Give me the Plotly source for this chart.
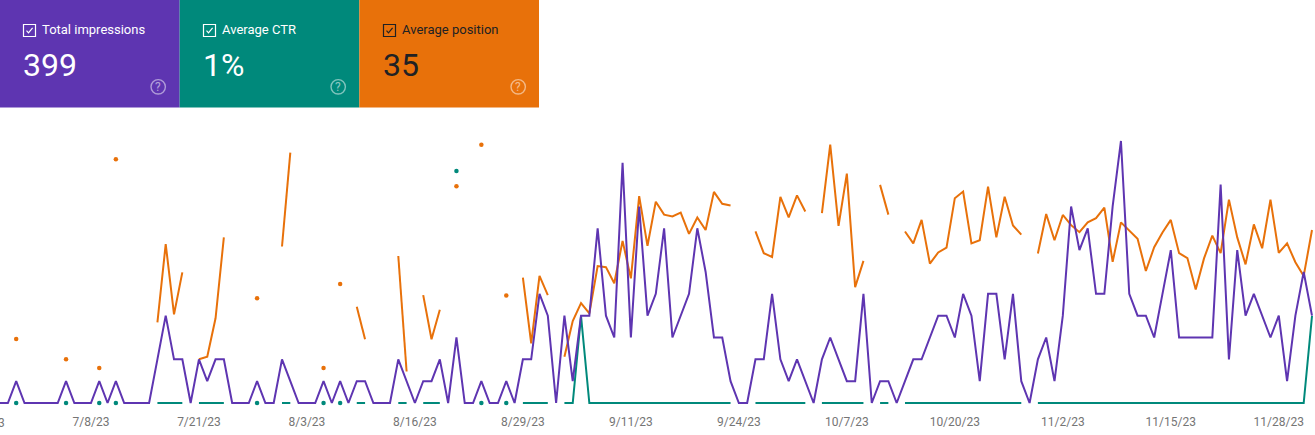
import pandas as pd
import plotly.graph_objects as go

N = None

start_date = "2023-06-27"

impressions = [
    0, 0, 1, 0, 0, 0, 0, 0, 1, 0,
    0, 0, 1, 0, 1, 0, 0, 0, 0, 2,
    4, 2, 2, 0, 2, 1, 2, 2, 0, 0,
    0, 1, 0, 0, 2, 1, 0, 0, 0, 1,
    0, 1, 0, 1, 1, 0, 0, 0, 2, 1,
    0, 1, 1, 2, 0, 3, 0, 0, 1, 0,
    0, 1, 0, 2, 2, 5, 4, 0, 4, 1,
    4, 4, 8, 4, 3, 11, 3, 9, 4, 5,
    8, 3, 4, 5, 8, 6, 3, 3, 1, 0,
    0, 2, 2, 5, 2, 1, 2, 1, 0, 2,
    3, 2, 1, 1, 5, 0, 1, 1, 0, 1,
    2, 2, 3, 4, 4, 3, 5, 4, 1, 5,
    5, 2, 5, 1, 0, 2, 3, 1, 4, 9,
    7, 8, 5, 5, 9, 12, 5, 4, 4, 3,
    5, 7, 3, 3, 3, 3, 3, 10, 2, 7,
    4, 5, 4, 3, 4, 1, 4, 6, 4,
]

ctr = [
    N, N, 0, N, N, N, N, N, 0, N,
    N, N, 0, N, 0, N, N, N, N, 0,
    0, 0, 0, N, 0, 0, 0, 0, N, N,
    N, 0, N, N, 0, 0, N, N, N, 0,
    N, 0, N, 0, 0, N, N, N, 0, 0,
    N, 0, 0, 0, N, 66.7, N, N, 0, N,
    N, 0, N, 0, 0, 0, 0, N, 0, 0,
    25, 0, 0, 0, 0, 0, 0, 0, 0, 0,
    0, 0, 0, 0, 0, 0, 0, 0, 0, N,
    N, 0, 0, 0, 0, 0, 0, 0, N, 0,
    0, 0, 0, 0, 0, N, 0, 0, N, 0,
    0, 0, 0, 0, 0, 0, 0, 0, 0, 0,
    0, 0, 0, 0, N, 0, 0, 0, 0, 0,
    0, 0, 0, 0, 0, 0, 0, 0, 0, 0,
    0, 0, 0, 0, 0, 0, 0, 0, 0, 0,
    0, 0, 0, 0, 0, 0, 0, 0, 25,
]

position = [
    N, N, 67.4, N, N, N, N, N, 73.2, N,
    N, N, 75.7, N, 16.1, N, N, N, N, 62.7,
    40.3, 60.4, 48.4, N, 73.2, 72.5, 61.5, 38.4, N, N,
    N, 55.8, N, N, 41.0, 14.2, N, N, N, 75.7,
    N, 51.7, N, 58.2, 67.5, N, N, N, 43.7, 76.7,
    N, 54.9, 67.5, 59.1, N, 23.8, N, N, 11.9, N,
    N, 55.0, N, 49.9, 68.7, 49.4, 54.9, N, 72.5, 62.3,
    57.2, 60.1, 46.6, 46.9, 51.5, 39.4, 50.1, 26.6, 40.8, 28.2,
    31.9, 32.4, 31.3, 37.4, 32.7, 36.3, 25.4, 28.8, 29.3, N,
    N, 36.7, 42.9, 44.0, 26.8, 32.7, 26.4, 31.0, N, 31.5,
    11.9, 35.1, 20.2, 52.6, 45.1, N, 23.4, 31.9, N, 36.7,
    40.1, 33.4, 45.9, 42.7, 41.3, 27.2, 25.3, 40.1, 39.2, 23.9,
    38.4, 26.8, 35.0, 37.6, N, 43.0, 31.7, 39.2, 32.0, 34.9,
    36.9, 34.1, 32.9, 29.9, 45.4, 34.1, 36.5, 38.8, 48.0, 41.2,
    37.0, 33.4, 42.9, 44.3, 53.3, 44.4, 37.9, 42.9, 27.6, 38.4,
    46.1, 34.7, 41.5, 27.6, 42.8, 40.1, 45.5, 49.4, 36.3,
]

card_titles = ["Total impressions", "Average CTR", "Average position"]
card_values = ["399", "1%", "35"]
card_colors = ["#5e35b1", "#00897b", "#e8710a"]
card_inks = ["#ffffff", "#ffffff", "#202124"]

PURPLE, TEAL, ORANGE = card_colors[0], card_colors[1], card_colors[2]
W, H = 1315, 435
TOP, BOTTOM = 125, 410
FONT = "Roboto"

dates = pd.date_range(start_date, periods=len(impressions))


def px(x):
    return x / W


def py(y):
    return (BOTTOM - y) / (BOTTOM - TOP)


def dot_sizes(values):
    # a day with no neighbours has no line to show, so it gets a dot
    sizes = []
    for i, v in enumerate(values):
        left = values[i - 1] if i > 0 else None
        right = values[i + 1] if i < len(values) - 1 else None
        sizes.append(4.5 if v is not None and left is None and right is None else 0)
    return sizes


def series(values, color, axis):
    return go.Scatter(x=dates, y=values, yaxis=axis, mode="lines+markers",
                      line=dict(color=color, width=2),
                      marker=dict(color=color, size=dot_sizes(values), opacity=1, line=dict(width=0)),
                      connectgaps=False, hoverinfo="skip", showlegend=False)


fig = go.Figure()
fig.add_trace(series(ctr, TEAL, "y"))
fig.add_trace(series(position, ORANGE, "y2"))
fig.add_trace(series(impressions, PURPLE, "y3"))

shapes = []
annotations = []


def text(x, y, s, size, color, anchor="left", opacity=1.0):
    annotations.append(dict(xref="paper", yref="paper", x=px(x), y=py(y), text=s,
                            showarrow=False, xanchor=anchor, yanchor="middle",
                            opacity=opacity, font=dict(family=FONT, size=size, color=color)))


card_w = 179.67
for n in range(3):
    left = n * 180
    ink = card_inks[n]
    shapes.append(dict(type="rect", xref="paper", yref="paper", x0=px(n * card_w), x1=px((n + 1) * card_w),
                       y0=py(0), y1=py(107.5), fillcolor=card_colors[n], line=dict(width=0), layer="below"))
    shapes.append(dict(type="rect", xref="paper", yref="paper", x0=px(left + 23.5), x1=px(left + 35.5),
                       y0=py(24.5), y1=py(36.5), line=dict(color=ink, width=1.2)))
    check = "M {} {} L {} {} L {} {}".format(px(left + 26.5), py(30.6), px(left + 28.5), py(32.8),
                                             px(left + 32.6), py(27.8))
    shapes.append(dict(type="path", xref="paper", yref="paper", path=check, line=dict(color=ink, width=1.2)))
    text(left + 40, 29, card_titles[n], 13, ink)
    text(left + 20.8, 64.5, card_values[n], 32, ink)
    shapes.append(dict(type="circle", xref="paper", yref="paper", x0=px(left + 151), x1=px(left + 165.4),
                       y0=py(79.6), y1=py(94), line=dict(color="rgba(255,255,255,0.5)", width=1.4)))
    text(left + 158.2, 86.6, "?", 12, "rgba(255,255,255,0.55)", anchor="center")

# the first tick sits left of the page, only its last digit shows
text(-17, 423, "6/25/23", 12, "#757575", anchor="center")

fig.update_layout(
    width=W, height=H,
    margin=dict(l=0, r=0, t=TOP, b=H - BOTTOM, pad=0),
    paper_bgcolor="white", plot_bgcolor="white",
    showlegend=False,
    font=dict(family=FONT),
    shapes=shapes,
    annotations=annotations,
    xaxis=dict(range=["2023-06-27 01:12", "2023-12-02 08:40"], tick0="2023-06-25", dtick=86400000 * 13,
               tickformat="%-m/%-d/%y", tickfont=dict(family=FONT, size=12, color="#757575"),
               showgrid=False, zeroline=False, showline=False, ticks="", ticklen=0, ticklabelstandoff=3),
    yaxis=dict(range=[-2.01, 79.89], visible=False, fixedrange=True),
    yaxis2=dict(range=[87.71, 6.29], visible=False, overlaying="y", fixedrange=True),
    yaxis3=dict(range=[-0.32, 12.73], visible=False, overlaying="y", fixedrange=True),
)

fig.write_html("out.html", config=dict(displayModeBar=False),
               post_script="document.body.style.margin='0';")
